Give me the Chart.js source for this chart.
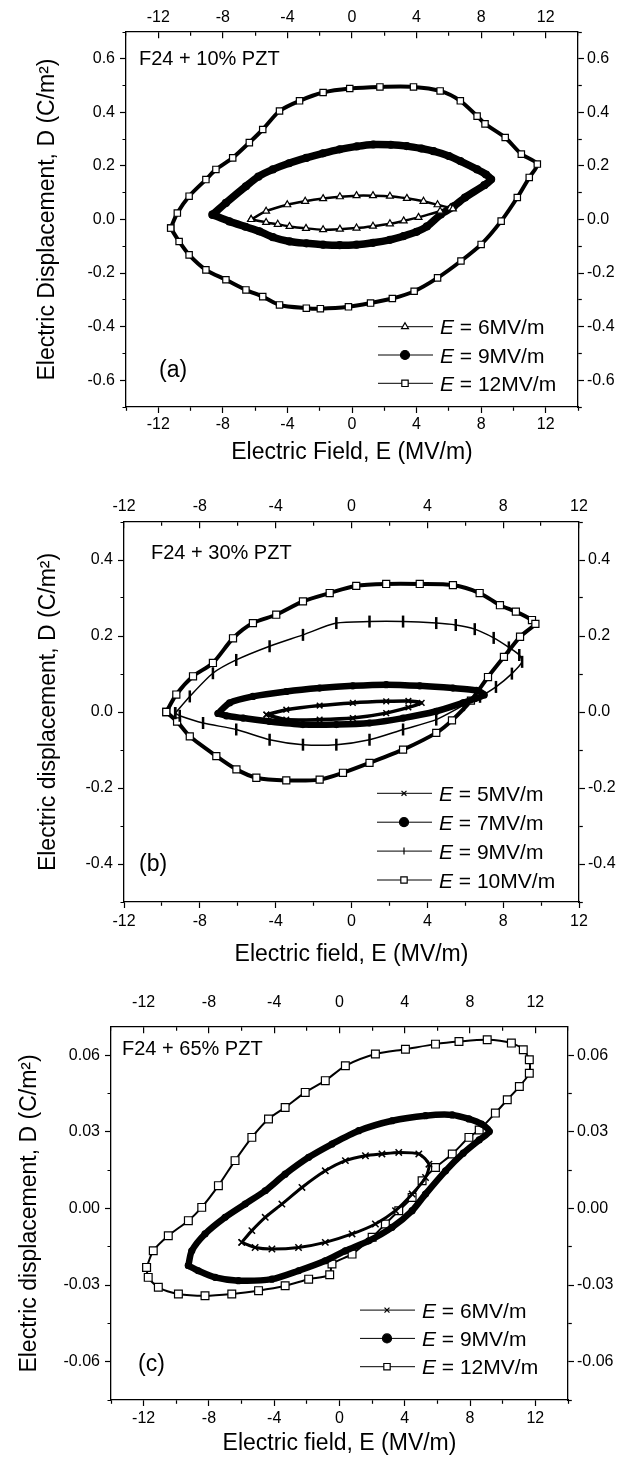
<!DOCTYPE html>
<html>
<head>
<meta charset="utf-8">
<script src="https://cdn.jsdelivr.net/npm/chart.js@4.4.1/dist/chart.umd.min.js"></script>
<style>
  body { margin: 0; background: #fff; }
  #wrap { position: relative; width: 625px; height: 1457px; }
  canvas { position: absolute; left: 0; }
</style>
</head>
<body>
<div id="wrap">
  <canvas id="chartA" width="625" height="480" style="top:0px"></canvas>
  <canvas id="chartB" width="625" height="490" style="top:480px"></canvas>
  <canvas id="chartC" width="625" height="487" style="top:970px"></canvas>
</div>
<script>
// labelled ticks
var fieldTicks = [-12, -8, -4, 0, 4, 8, 12];
var dispTicksA = [-0.6, -0.4, -0.2, 0, 0.2, 0.4, 0.6];
var dispTicksB = [-0.4, -0.2, 0, 0.2, 0.4];
var dispTicksC = [-0.06, -0.03, 0, 0.03, 0.06];

// loops: [E (MV/m), D (C/m2)]
// (a) F24 + 10% PZT
var loopA6 = [[-6.25,0.000],[-5.32,0.031],[-4.01,0.055],[-2.9,0.068],[-1.79,0.078],[-0.75,0.085],[0.28,0.089],[1.3,0.089],[2.35,0.087],[3.4,0.079],[4.43,0.068],[5.3,0.055],[6.09,0.043],[6.25,0.040],[5.46,0.031],[4.12,0.008],[3.2,-0.005],[2.35,-0.016],[1.3,-0.025],[0.28,-0.032],[-0.75,-0.036],[-1.79,-0.038],[-2.85,-0.033],[-3.87,-0.026],[-4.6,-0.018],[-5.32,-0.011],[-6.25,0.000]];
var loopA9 = [[-8.64,0.018],[-7.81,0.062],[-6.57,0.124],[-5.8,0.160],[-4.9,0.187],[-3.9,0.210],[-2.83,0.230],[-1.8,0.247],[-0.76,0.262],[0.3,0.273],[1.32,0.280],[2.4,0.279],[3.39,0.274],[4.3,0.265],[5.05,0.255],[6.0,0.237],[6.71,0.218],[7.75,0.187],[8.3,0.168],[8.62,0.150],[8.2,0.128],[7.0,0.082],[6.3,0.049],[5.5,0.019],[4.64,-0.026],[4.0,-0.046],[3.2,-0.062],[2.35,-0.076],[1.3,-0.087],[0.28,-0.094],[-0.76,-0.096],[-1.79,-0.094],[-2.83,-0.089],[-3.87,-0.082],[-4.9,-0.066],[-5.74,-0.044],[-6.6,-0.027],[-7.6,-0.007],[-8.64,0.018]];
var loopA12 = [[-11.23,-0.032],[-10.82,0.024],[-10.09,0.087],[-9.05,0.149],[-8.43,0.187],[-7.39,0.230],[-6.36,0.287],[-5.53,0.336],[-4.49,0.405],[-3.25,0.443],[-1.79,0.474],[-0.14,0.489],[1.73,0.495],[3.81,0.495],[5.46,0.480],[6.71,0.443],[7.75,0.386],[8.24,0.357],[9.49,0.306],[10.49,0.244],[11.48,0.207],[10.98,0.157],[10.24,0.082],[9.24,-0.006],[8.0,-0.093],[6.75,-0.155],[5.3,-0.218],[3.85,-0.268],[2.5,-0.295],[1.15,-0.312],[-0.22,-0.326],[-1.96,-0.333],[-2.83,-0.331],[-4.49,-0.319],[-5.53,-0.288],[-6.57,-0.263],[-7.81,-0.225],[-9.05,-0.188],[-10.09,-0.132],[-10.71,-0.082],[-11.23,-0.032]];

// (b) F24 + 30% PZT
var loopB5 = [[-4.49,-0.007],[-3.44,0.006],[-1.68,0.017],[0.07,0.024],[1.83,0.028],[3.0,0.029],[3.7,0.024],[3.0,0.012],[1.83,-0.003],[0.07,-0.016],[-1.68,-0.020],[-3.44,-0.020],[-4.49,-0.007]];
var loopB7 = [[-7.04,-0.004],[-6.43,0.024],[-5.2,0.041],[-3.44,0.054],[-1.68,0.063],[0.07,0.069],[1.83,0.072],[3.6,0.069],[5.35,0.063],[6.58,0.057],[7.0,0.045],[6.5,0.035],[5.88,0.024],[4.47,0.002],[2.72,-0.016],[0.95,-0.029],[-0.8,-0.033],[-2.56,-0.033],[-4.32,-0.025],[-5.72,-0.016],[-6.6,-0.010],[-7.04,-0.004]];
var loopB9 = [[-9.3,-0.003],[-8.53,0.041],[-7.31,0.102],[-6.08,0.137],[-4.32,0.173],[-2.56,0.203],[-0.8,0.234],[0.95,0.238],[2.72,0.238],[4.47,0.234],[5.5,0.229],[6.5,0.218],[7.5,0.195],[8.3,0.170],[8.85,0.150],[9.0,0.132],[8.46,0.101],[7.62,0.066],[6.78,0.040],[5.93,0.018],[4.47,-0.020],[2.72,-0.046],[0.95,-0.073],[-0.8,-0.086],[-2.56,-0.086],[-4.32,-0.073],[-6.08,-0.046],[-7.83,-0.029],[-9.06,-0.010],[-9.3,-0.003]];
var loopB10 = [[-9.77,0.000],[-9.24,0.046],[-8.36,0.094],[-7.31,0.129],[-6.25,0.194],[-5.2,0.234],[-3.97,0.256],[-2.56,0.291],[-1.15,0.313],[0.25,0.332],[1.83,0.337],[3.6,0.337],[5.35,0.334],[6.76,0.313],[7.83,0.281],[8.67,0.264],[9.52,0.242],[9.7,0.232],[8.89,0.198],[8.04,0.145],[7.2,0.092],[6.3,0.030],[5.3,-0.022],[4.47,-0.055],[2.72,-0.099],[0.95,-0.134],[-0.45,-0.160],[-1.68,-0.178],[-3.44,-0.180],[-5.02,-0.173],[-6.07,-0.151],[-7.13,-0.116],[-8.53,-0.064],[-9.2,-0.025],[-9.77,0.000]];

// (c) F24 + 65% PZT
var loopC6 = [[-5.99,-0.0133],[-5.37,-0.0087],[-4.55,-0.0035],[-3.53,0.0017],[-2.3,0.0082],[-0.87,0.0147],[0.36,0.0187],[1.59,0.0206],[2.6,0.0213],[3.63,0.0219],[4.86,0.0213],[5.48,0.0173],[5.27,0.0121],[4.45,0.0056],[3.43,-0.0009],[2.2,-0.0061],[0.77,-0.0100],[-0.87,-0.0133],[-2.51,-0.0153],[-4.14,-0.0159],[-5.17,-0.0153],[-5.99,-0.0133]];
var loopC9 = [[-9.26,-0.0224],[-9.05,-0.0166],[-8.24,-0.0100],[-7.01,-0.0035],[-5.78,0.0017],[-4.55,0.0069],[-3.33,0.0134],[-1.89,0.0200],[-0.46,0.0252],[1.18,0.0304],[3.22,0.0343],[5.27,0.0363],[6.91,0.0366],[7.93,0.0350],[8.7,0.0330],[9.18,0.0301],[8.56,0.0268],[7.58,0.0216],[6.5,0.0147],[5.27,0.0056],[4.45,-0.0009],[3.22,-0.0074],[1.79,-0.0127],[0.36,-0.0166],[-0.87,-0.0205],[-2.51,-0.0244],[-4.14,-0.0277],[-6.19,-0.0283],[-7.62,-0.0270],[-8.65,-0.0244],[-9.26,-0.0224]];
var loopC12 = [[-11.82,-0.0231],[-11.41,-0.0166],[-10.49,-0.0107],[-9.26,-0.0048],[-8.44,0.0004],[-7.42,0.0089],[-6.4,0.0187],[-5.37,0.0278],[-4.35,0.0350],[-3.33,0.0395],[-2.1,0.0454],[-0.87,0.0500],[0.36,0.0558],[2.2,0.0604],[4.04,0.0623],[5.88,0.0643],[7.32,0.0653],[9.05,0.0660],[10.53,0.0647],[11.26,0.0621],[11.63,0.0582],[11.63,0.0529],[11.02,0.0477],[10.28,0.0425],[9.55,0.0373],[8.56,0.0307],[7.93,0.0278],[6.91,0.0213],[5.88,0.0160],[5.06,0.0108],[4.45,0.0043],[3.63,-0.0009],[2.81,-0.0061],[2.0,-0.0113],[0.77,-0.0179],[-0.46,-0.0218],[-0.6,-0.0260],[-1.89,-0.0277],[-3.33,-0.0303],[-4.96,-0.0322],[-6.6,-0.0335],[-8.24,-0.0342],[-9.87,-0.0335],[-11.1,-0.0309],[-11.72,-0.0270],[-11.82,-0.0231]];

var FAM = "'Liberation Sans', Arial, Helvetica, sans-serif";
var tickFont = { family: FAM, size: 16 };
var titleFont = { family: FAM, size: 23 };

function near(v, list) {
    for (var i = 0; i < list.length; i++) {
        if (Math.abs(list[i] - v) < 1e-9) return true;
    }
    return false;
}

// minor + major tick positions between min and max
function tickList(min, max, step) {
    var out = [];
    var k = Math.ceil(min / step - 1e-6);
    while (k * step <= max + 1e-9) {
        out.push(+(k * step).toFixed(6));
        k++;
    }
    return out;
}

function loop(label, pts, style) {
    return Object.assign({
        label: label,
        data: pts.map(function (p) { return { x: p[0], y: p[1] }; }),
        showLine: true,
        borderColor: "#000",
        pointBorderColor: "#000",
        pointBorderWidth: 1.2,
        tension: 0.25
    }, style);
}

// panel label, (a)/(b)/(c) tag and the legend inside the frame
var decor = {
    id: "decor",
    afterDatasetsDraw: function (chart, args, o) {
        var ctx = chart.ctx, a = chart.chartArea;
        ctx.save();
        ctx.fillStyle = "#000";
        ctx.textBaseline = "alphabetic";
        ctx.textAlign = "left";
        ctx.font = "20px " + FAM;
        ctx.fillText(o.name, a.left + o.nameAt[0], a.top + o.nameAt[1]);
        ctx.font = "23px " + FAM;
        ctx.fillText(o.tag, a.left + o.tagAt[0], a.bottom - o.tagAt[1]);

        var ds = chart.data.datasets;
        var x0 = a.right - o.legendAt[0];
        ds.forEach(function (d, i) {
            var y = a.bottom - o.legendAt[1] - (ds.length - 1 - i) * o.rowH;
            ctx.strokeStyle = "#000";
            ctx.lineWidth = 1;
            ctx.beginPath();
            ctx.moveTo(x0, y);
            ctx.lineTo(x0 + 55, y);
            ctx.stroke();
            ctx.fillStyle = d.pointBackgroundColor;
            ctx.lineWidth = 1.2;
            Chart.helpers.drawPoint(ctx, {
                pointStyle: d.pointStyle,
                rotation: d.pointRotation || 0,
                radius: d.legendRadius,
                borderWidth: 1.2
            }, x0 + 27, y);
            ctx.fillStyle = "#000";
            ctx.font = "italic 21px " + FAM;
            ctx.fillText(d.label.charAt(0), x0 + 62, y + 7.5);
            var w = ctx.measureText(d.label.charAt(0)).width;
            ctx.font = "21px " + FAM;
            ctx.fillText(d.label.slice(1), x0 + 62 + w, y + 7.5);
        });
        ctx.restore();
    }
};

function makePanel(id, p, datasets) {
    var xt = tickList(p.xMin, p.xMax, 2);
    var yt = tickList(p.yMin, p.yMax, p.yStep);
    var majX = function (c) { return c.tick && near(c.tick.value, fieldTicks); };
    var majY = function (c) { return c.tick && near(c.tick.value, p.yLabels); };
    var xLabel = function (v) { return near(v, fieldTicks) ? String(Math.round(v)) : ""; };
    var yLabel = function (v) {
        if (!near(v, p.yLabels)) return "";
        return (Math.abs(v) < 1e-9 ? 0 : v).toFixed(p.dec);
    };
    var border = { display: true, color: "#000", width: 1.3 };
    var setX = function (s) { s.ticks = xt.map(function (v) { return { value: v }; }); };
    var setY = function (s) { s.ticks = yt.map(function (v) { return { value: v }; }); };

    var scales = {
        x: {
            type: "linear", position: "bottom", min: p.xMin, max: p.xMax,
            afterBuildTicks: setX,
            afterFit: function (s) { s.height = p.bottom; },
            ticks: { autoSkip: false, maxRotation: 0, padding: p.xPad, color: "#000", font: tickFont, callback: xLabel },
            grid: {
                drawOnChartArea: false, tickLength: 6, tickWidth: 1.2, tickColor: "#000",
                tickBorderDash: function (c) { return majX(c) ? [] : [3.5, 50]; }
            },
            border: border,
            title: { display: true, text: p.xTitle, color: "#000", font: titleFont, padding: { top: 0, bottom: p.xTitlePad } }
        },
        x2: {
            type: "linear", position: "top", min: p.xMin, max: p.xMax,
            afterBuildTicks: setX,
            afterFit: function (s) { s.height = p.top; },
            ticks: { autoSkip: false, maxRotation: 0, padding: p.x2Pad, color: "#000", font: tickFont, callback: xLabel },
            // ticks point into the frame on the top axis
            grid: { drawOnChartArea: true, drawTicks: false, color: "#000", lineWidth: 1.2 },
            border: {
                display: true, color: "#000", width: 1.3,
                dash: function (c) { return c.tick ? (majX(c) ? [6, 3000] : [3.5, 3000]) : []; }
            }
        },
        y: {
            type: "linear", position: "left", min: p.yMin, max: p.yMax,
            afterBuildTicks: setY,
            afterFit: function (s) { s.width = p.left; },
            ticks: { autoSkip: false, padding: 5, color: "#000", font: tickFont, callback: yLabel },
            grid: {
                drawOnChartArea: false, tickLength: 6, tickWidth: 1.2, tickColor: "#000",
                tickBorderDash: function (c) { return majY(c) ? [] : [0, 2.5, 3.5, 50]; }
            },
            border: border,
            title: { display: true, text: p.yTitle, color: "#000", font: titleFont, padding: { top: p.yTitlePad, bottom: 0 } }
        },
        y2: {
            type: "linear", position: "right", min: p.yMin, max: p.yMax,
            afterBuildTicks: setY,
            afterFit: function (s) { s.width = p.right; },
            ticks: { autoSkip: false, padding: 3, color: "#000", font: tickFont, callback: yLabel },
            grid: {
                drawOnChartArea: false, tickLength: 6, tickWidth: 1.2, tickColor: "#000",
                tickBorderDash: function (c) { return majY(c) ? [] : [3.5, 50]; }
            },
            border: border
        }
    };

    return new Chart(document.getElementById(id).getContext("2d"), {
        type: "scatter",
        data: { datasets: datasets },
        options: {
            responsive: false,
            animation: false,
            events: [],
            layout: { padding: 0 },
            scales: scales,
            plugins: {
                legend: { display: false },
                tooltip: { enabled: false },
                decor: p.decor
            }
        },
        plugins: [decor]
    });
}

document.addEventListener("DOMContentLoaded", function () {
    makePanel("chartA", {
        xMin: -14, xMax: 14, yMin: -0.7, yMax: 0.7, yStep: 0.1, yLabels: dispTicksA, dec: 1,
        left: 126, right: 47, top: 32, bottom: 73,
        x2Pad: 5, xPad: 2, yTitlePad: 34, xTitlePad: 14,
        xTitle: "Electric Field, E (MV/m)",
        yTitle: "Electric Displacement, D (C/m\u00B2)",
        decor: { name: "F24 + 10% PZT", nameAt: [13, 33], tag: "(a)", tagAt: [33, 30], legendAt: [200, 23.7], rowH: 28.3 }
    }, [
        loop("E = 6MV/m", loopA6, { pointStyle: "triangle", pointRadius: 4, pointBackgroundColor: "#fff", pointBorderWidth: 1.2, borderWidth: 2.5, legendRadius: 4 }),
        loop("E = 9MV/m", loopA9, { pointStyle: "circle", pointRadius: 3.5, pointBackgroundColor: "#000", borderWidth: 7.5, legendRadius: 4.5 }),
        loop("E = 12MV/m", loopA12, { pointStyle: "rect", pointRadius: 4.5, pointBackgroundColor: "#fff", borderWidth: 4, legendRadius: 4.5 })
    ]);

    makePanel("chartB", {
        xMin: -12, xMax: 12, yMin: -0.5, yMax: 0.5, yStep: 0.1, yLabels: dispTicksB, dec: 1,
        left: 124, right: 46, top: 42, bottom: 68,
        x2Pad: 6, xPad: 4, yTitlePad: 35, xTitlePad: 2,
        xTitle: "Electric field, E (MV/m)",
        yTitle: "Electric displacement, D (C/m\u00B2)",
        decor: { name: "F24 + 30% PZT", nameAt: [27, 36.7], tag: "(b)", tagAt: [15, 31.5], legendAt: [202, 22], rowH: 28.9 }
    }, [
        loop("E = 5MV/m", loopB5, { pointStyle: "crossRot", pointRadius: 4, pointBackgroundColor: "#000", pointBorderWidth: 1.5, borderWidth: 3.5, legendRadius: 3.5 }),
        loop("E = 7MV/m", loopB7, { pointStyle: "circle", pointRadius: 3, pointBackgroundColor: "#000", borderWidth: 6.5, legendRadius: 4.5 }),
        loop("E = 9MV/m", loopB9, { pointStyle: "line", pointRotation: 90, pointRadius: 6, pointBorderWidth: 2.5, pointBackgroundColor: "#000", borderWidth: 1.5, legendRadius: 3.5 }),
        loop("E = 10MV/m", loopB10, { pointStyle: "rect", pointRadius: 5, pointBackgroundColor: "#fff", borderWidth: 4, legendRadius: 4.5 })
    ]);

    makePanel("chartC", {
        xMin: -14, xMax: 14, yMin: -0.075, yMax: 0.071, yStep: 0.015, yLabels: dispTicksC, dec: 2,
        left: 111, right: 57, top: 57, bottom: 57,
        x2Pad: 15, xPad: 3, yTitlePad: 16, xTitlePad: 0,
        xTitle: "Electric field, E (MV/m)",
        yTitle: "Electric displacement, D (C/m\u00B2)",
        decor: { name: "F24 + 65% PZT", nameAt: [11, 28], tag: "(c)", tagAt: [27, 29.5], legendAt: [208, 33.3], rowH: 28.3 }
    }, [
        loop("E = 6MV/m", loopC6, { pointStyle: "crossRot", pointRadius: 4.5, pointBackgroundColor: "#000", pointBorderWidth: 1.5, borderWidth: 3, legendRadius: 3.5 }),
        loop("E = 9MV/m", loopC9, { pointStyle: "circle", pointRadius: 3, pointBackgroundColor: "#000", borderWidth: 6.5, legendRadius: 4.5 }),
        loop("E = 12MV/m", loopC12, { pointStyle: "rect", pointRadius: 5.5, pointBackgroundColor: "#fff", borderWidth: 2, legendRadius: 4.5 })
    ]);
});
</script>
</body>
</html>
